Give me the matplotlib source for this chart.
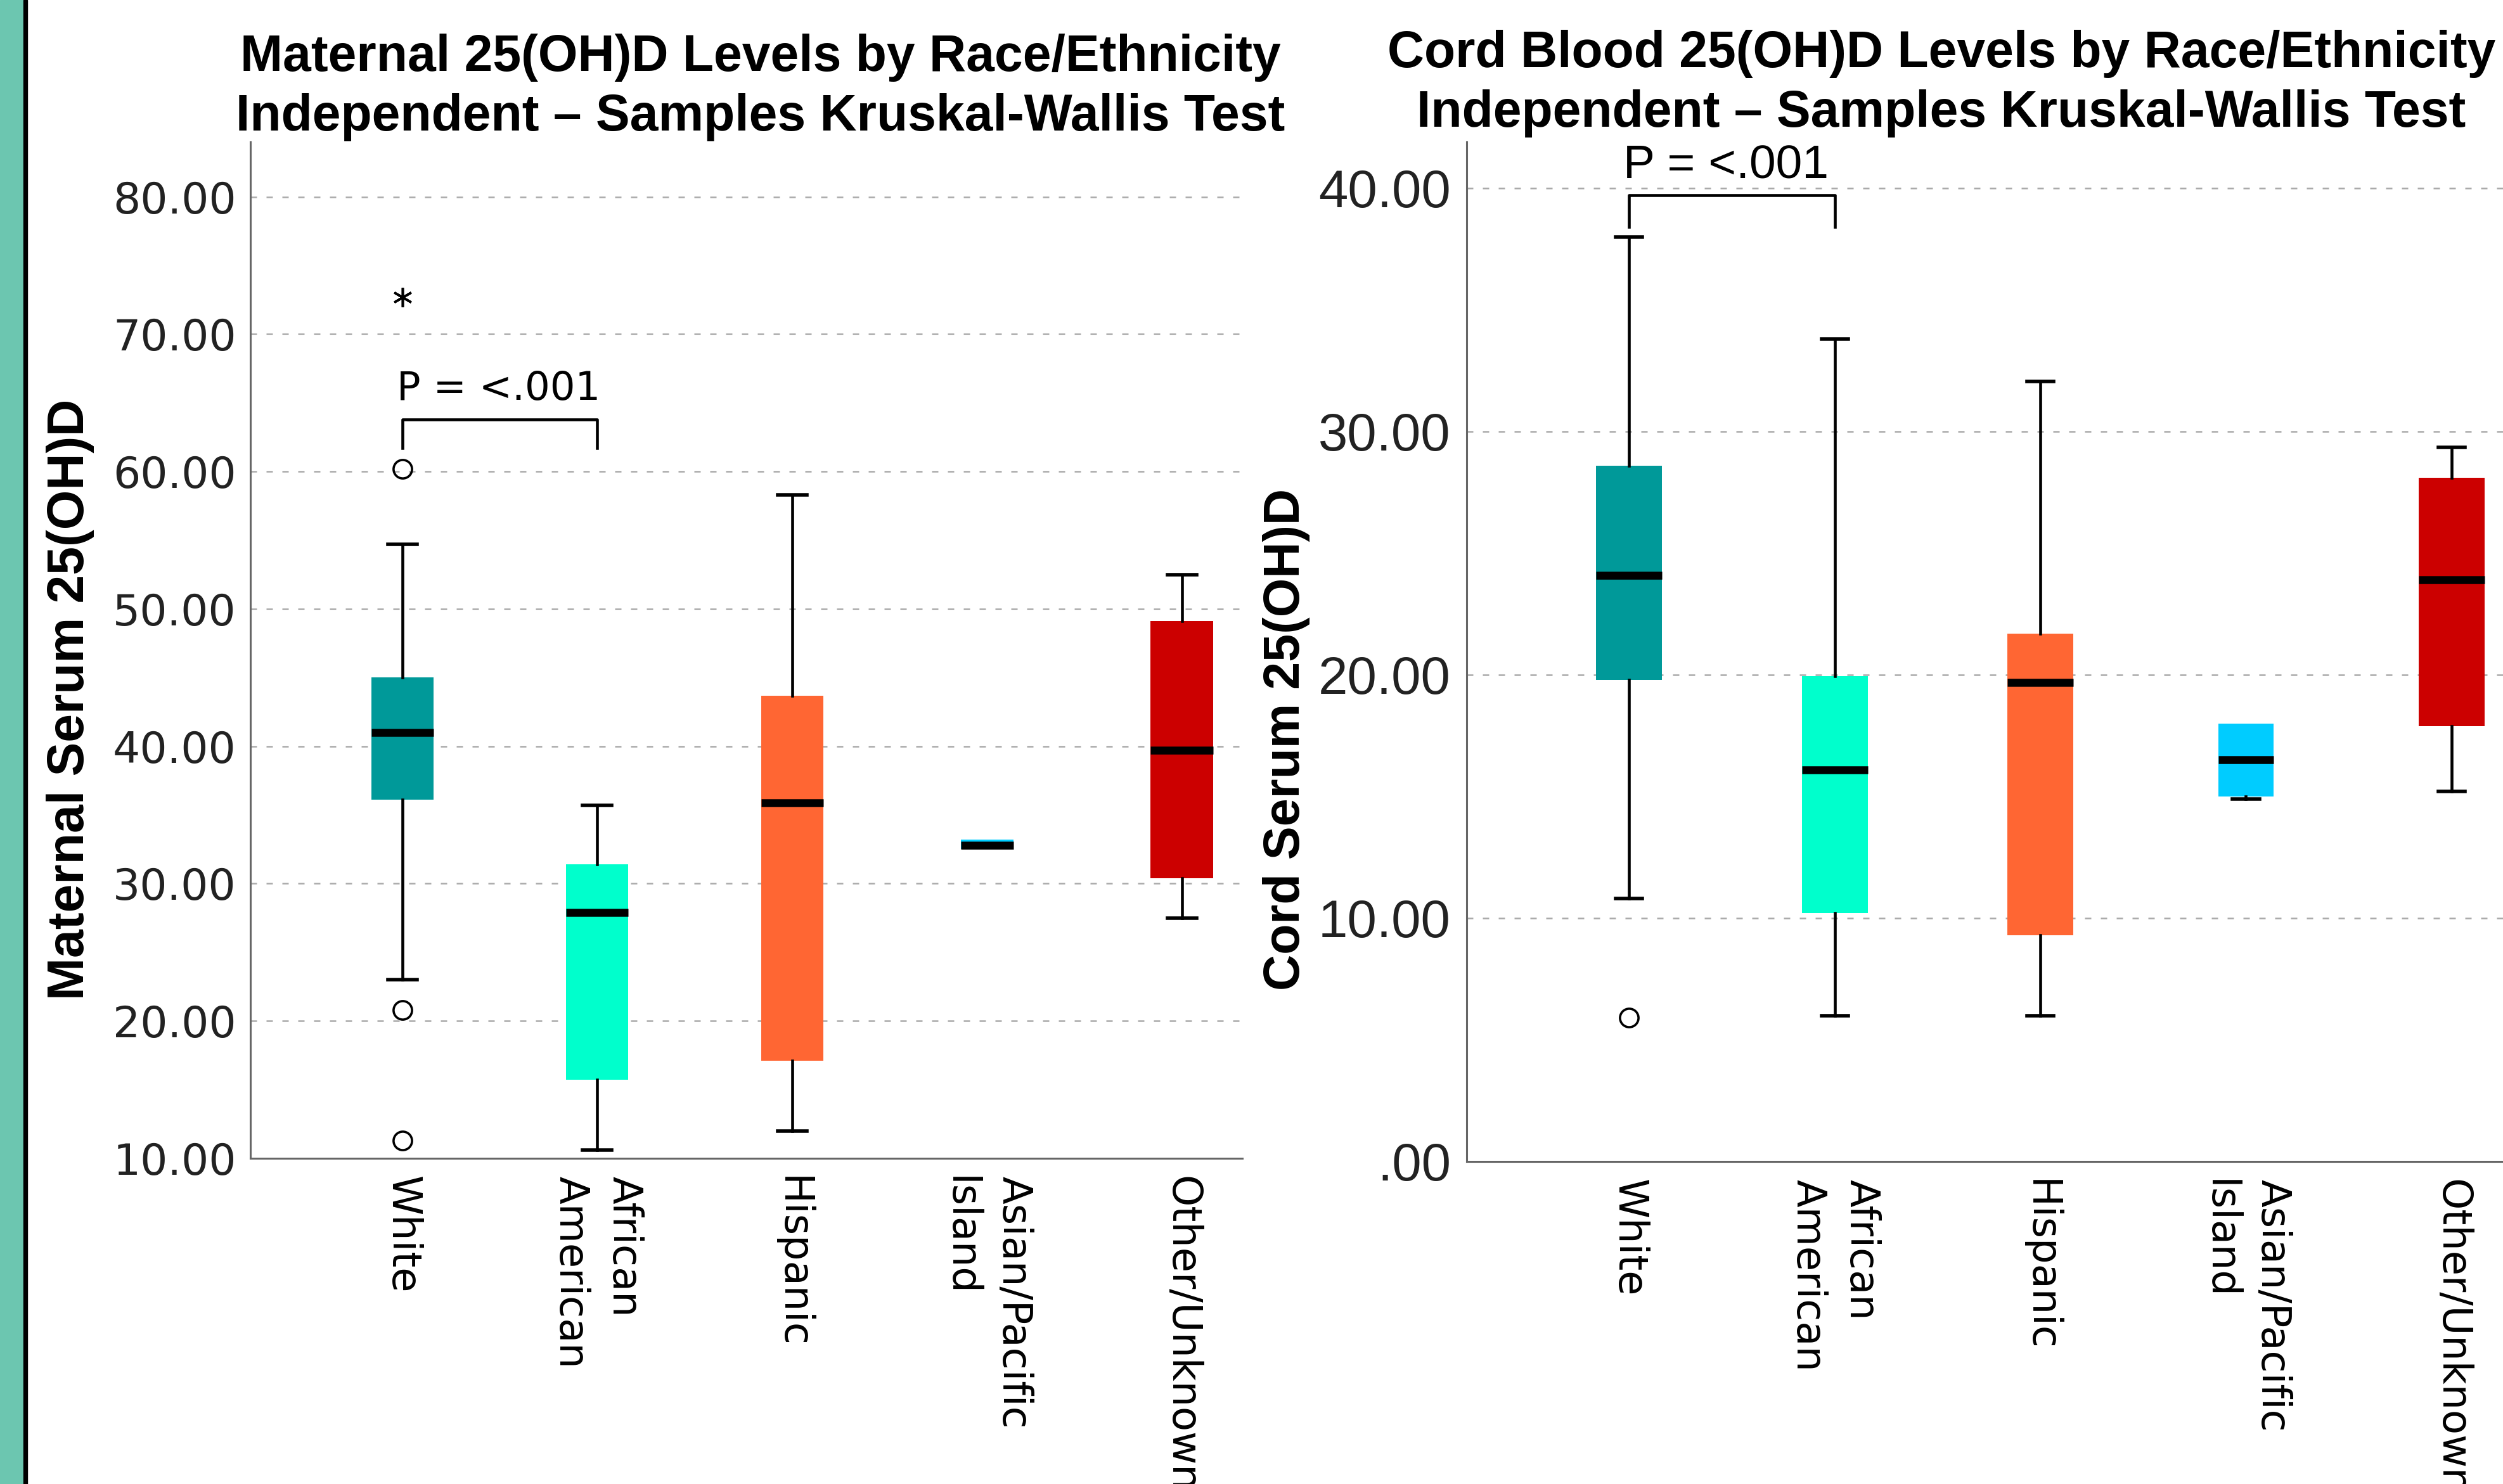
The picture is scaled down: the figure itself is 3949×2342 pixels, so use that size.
import matplotlib
matplotlib.use("Agg")
import matplotlib.pyplot as plt
from matplotlib.patches import Rectangle

# categories and box colours
categories = ["White", "African\nAmerican", "Hispanic", "Asian/Pacific\nIsland", "Other/Unknown"]
box_colors = ["#009999", "#00FFCC", "#FF6633", "#00CCFF", "#CC0000"]
box_widths = [0.32, 0.32, 0.32, 0.27, 0.32]

# maternal serum 25(OH)D
mat_whislo = [23.0, 10.6, 12.0, 32.5, 27.5]
mat_q1 = [36.1, 15.7, 17.1, 32.5, 30.4]
mat_med = [41.0, 27.9, 35.9, 32.8, 39.7]
mat_q3 = [45.0, 31.4, 43.7, 33.2, 49.1]
mat_whishi = [54.7, 35.7, 58.3, 33.2, 52.5]
mat_outliers = [[60.2, 20.8, 11.3], [], [], [], []]
mat_extremes = [[72.7], [], [], [], []]
mat_ticks = [10, 20, 30, 40, 50, 60, 70, 80]
mat_ticklabels = ["10.00", "20.00", "30.00", "40.00", "50.00", "60.00", "70.00", "80.00"]

# cord blood serum 25(OH)D
cord_whislo = [10.8, 6.0, 6.0, 14.9, 15.2]
cord_q1 = [19.8, 10.2, 9.3, 15.0, 17.9]
cord_med = [24.1, 16.1, 19.7, 16.5, 23.9]
cord_q3 = [28.6, 19.95, 21.7, 18.0, 28.1]
cord_whishi = [38.0, 33.8, 32.05, 18.0, 29.35]
cord_outliers = [[5.9], [], [], [], []]
cord_extremes = [[], [], [], [], []]
cord_ticks = [0, 10, 20, 30, 40]
cord_ticklabels = [".00", "10.00", "20.00", "30.00", "40.00"]

# significance brackets: (from, to, top, leg bottom, text y)
mat_bracket = (0, 1, 63.8, 61.7, 66.0)
cord_bracket = (0, 1, 39.7, 38.4, 40.9)
p_text = "P = <.001"

W, H = 3949, 2342
fig = plt.figure(figsize=(W / 100, H / 100), dpi=100)

# green stripe at the left edge of the slide
fig.patches.append(Rectangle((0, 0), 37 / W, 1, transform=fig.transFigure, color="#6CC6B0", zorder=0))
fig.patches.append(Rectangle((37 / W, 0), 6 / W, 1, transform=fig.transFigure, color="black", zorder=0))


def draw_panel(ax, whislo, q1, med, q3, whishi, outliers, extremes, cap_w, med_lw):
    stats = []
    for i in range(len(categories)):
        stats.append({"whislo": whislo[i], "q1": q1[i], "med": med[i], "q3": q3[i],
                      "whishi": whishi[i], "fliers": []})
    res = ax.bxp(stats, positions=list(range(len(categories))), widths=box_widths,
                 patch_artist=True, showfliers=False, capwidths=cap_w,
                 boxprops=dict(linewidth=0),
                 medianprops=dict(color="black", linewidth=med_lw, solid_capstyle="butt"),
                 whiskerprops=dict(color="black", linewidth=3.3),
                 capprops=dict(color="black", linewidth=4))
    for i, patch in enumerate(res["boxes"]):
        patch.set_facecolor(box_colors[i])
        patch.set_edgecolor(box_colors[i])
        # no cap where the whisker has zero length
        if whislo[i] >= q1[i]:
            res["caps"][2 * i].set_visible(False)
        if whishi[i] <= q3[i]:
            res["caps"][2 * i + 1].set_visible(False)
    for i in range(len(categories)):
        if outliers[i]:
            ax.plot([i] * len(outliers[i]), outliers[i], linestyle="none", marker="o",
                    markersize=21, markerfacecolor="none", markeredgecolor="black",
                    markeredgewidth=2.6)
        if extremes[i]:
            ax.plot([i] * len(extremes[i]), extremes[i], linestyle="none", marker=(6, 2, 0),
                    markersize=22, markeredgecolor="black", markeredgewidth=2.6)


def style_axes(ax, ticks, ticklabels, tick_font, tick_size, tick_pad):
    for s in ["top", "right"]:
        ax.spines[s].set_visible(False)
    for s in ["left", "bottom"]:
        ax.spines[s].set_color("#666666")
        ax.spines[s].set_linewidth(2.2)
    ax.set_yticks(ticks)
    ax.set_yticklabels(ticklabels, fontsize=tick_size, family=tick_font, color="#222222")
    ax.tick_params(axis="y", length=0, pad=tick_pad)
    ax.set_xticks(range(len(categories)))
    ax.set_xticklabels(categories, rotation=-90, fontsize=46, family="DejaVu Sans",
                       va="top", ha="center", multialignment="left", linespacing=1.45)
    ax.tick_params(axis="x", length=0, pad=20)
    ax.yaxis.grid(True, color="#aaaaaa", linewidth=1.8, linestyle=(0, (4, 6)))
    ax.set_axisbelow(True)


def bracket(ax, b, fs, font):
    x0, x1, top, low, ty = b
    ax.plot([x0, x0, x1, x1], [low, top, top, low], color="black", linewidth=3.3,
            solid_joinstyle="round")
    ax.text(x0 - 0.03, ty, p_text, fontsize=fs, family=font, ha="left", va="center")


# left panel: maternal
ax1 = fig.add_axes([395 / W, 1 - 1828 / H, (1960 - 395) / W, (1828 - 224) / H])
draw_panel(ax1, mat_whislo, mat_q1, mat_med, mat_q3, mat_whishi, mat_outliers, mat_extremes,
           [0.15, 0.15, 0.15, 0.15, 0.15], 9)
ax1.set_xlim(-0.78, 4.31)
ax1.set_ylim(10, 84)
style_axes(ax1, mat_ticks, mat_ticklabels, "DejaVu Sans", 49, 16)
bracket(ax1, mat_bracket, 45, "DejaVu Sans")

# right panel: cord blood
ax2 = fig.add_axes([2314 / W, 1 - 1833 / H, (W - 2314) / W, (1833 - 224) / H])
draw_panel(ax2, cord_whislo, cord_q1, cord_med, cord_q3, cord_whishi, cord_outliers, cord_extremes,
           [0.13, 0.13, 0.13, 0.13, 0.13], 9)
ax2.set_xlim(-0.79, 4.25)
ax2.set_ylim(0, 41.9)
style_axes(ax2, cord_ticks, cord_ticklabels, "Liberation Sans", 60, 18)
bracket(ax2, cord_bracket, 54, "Liberation Sans")

# titles
fig.text(1200 / W, 1 - 138 / H, "Maternal 25(OH)D Levels by Race/Ethnicity\nIndependent \u2013 Samples Kruskal-Wallis Test",
         fontsize=58, fontweight="bold", family="Liberation Sans", ha="center", va="center",
         linespacing=1.3)
fig.text(3063 / W, 1 - 132 / H, "Cord Blood 25(OH)D Levels by Race/Ethnicity\nIndependent \u2013 Samples Kruskal-Wallis Test",
         fontsize=58, fontweight="bold", family="Liberation Sans", ha="center", va="center",
         linespacing=1.3)

# axis labels
fig.text(111 / W, 1 - 1104 / H, "Maternal Serum 25(OH)D", rotation=90, fontsize=58,
         fontweight="bold", family="Liberation Sans", ha="center", va="center")
fig.text(2030 / W, 1 - 1167 / H, "Cord Serum 25(OH)D", rotation=90, fontsize=57,
         fontweight="bold", family="Liberation Sans", ha="center", va="center")

fig.savefig("out.png", dpi=100)
